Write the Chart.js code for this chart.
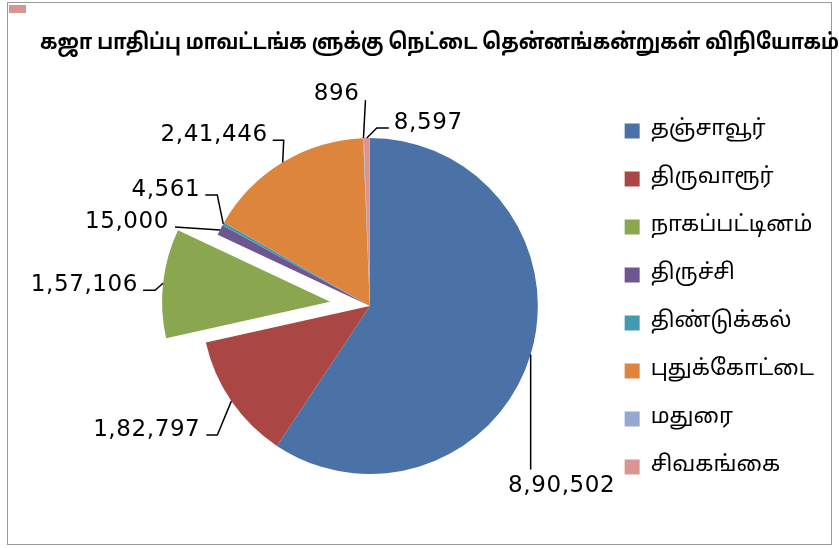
<!DOCTYPE html>
<html>
<head>
<meta charset="utf-8">
<script src="https://cdn.jsdelivr.net/npm/chart.js@4"></script>
<style>
  html, body { margin: 0; padding: 0; background: #fff; overflow: hidden; }
  #wrap { position: relative; width: 839px; height: 548px; overflow: hidden; }
  #frame { position: absolute; left: 7px; top: 2px; width: 825px; height: 543px; border: 1.5px solid #9a9a9a; box-sizing: border-box; }
  #mark { position: absolute; left: 9px; top: 5px; width: 17px; height: 8px; background: #d99594; }
  #title { position: absolute; left: 40px; top: 30px; white-space: nowrap; font: bold 22px 'Noto Sans Tamil', 'Lohit Tamil', Latha, 'Noto Sans', sans-serif; color: #000; transform: scaleX(0.87); transform-origin: left top; }
  canvas { position: absolute; left: 0; top: 0; }
</style>
</head>
<body>
<div id="wrap">
  <div id="frame"></div>
  <div id="mark"></div>
  <canvas id="chart" width="839" height="548"></canvas>
  <div id="title">கஜா பாதிப்பு மாவட்டங்க ளுக்கு நெட்டை தென்னங்கன்றுகள் விநியோகம்</div>
</div>
<script>
const districts = ['தஞ்சாவூர்', 'திருவாரூர்', 'நாகப்பட்டினம்', 'திருச்சி', 'திண்டுக்கல்', 'புதுக்கோட்டை', 'மதுரை', 'சிவகங்கை'];
const saplings = [890502, 182797, 157106, 15000, 4561, 241446, 896, 8597];
const valueLabels = ['8,90,502', '1,82,797', '1,57,106', '15,000', '4,561', '2,41,446', '896', '8,597'];

const sliceColors = ['#4a72a6', '#aa4744', '#8aa64e', '#6e5690', '#4399b0', '#dd853c', '#94a9cf', '#d99594'];
const explode = [0, 0, 40, 0, 0, 0, 0, 0];

// leader lines: points relative to the slice edge, then text offset from the last point
const leaders = [
  { pts: [[0, 115]], txt: [31, 5], align: 'center', base: 'top' },
  { pts: [[-14, 34], [-25, 34]], txt: [-6, 1], align: 'right', base: 'alphabetic' },
  { pts: [[-8, 7], [-20, 7]], txt: [-5, 1], align: 'right', base: 'alphabetic' },
  { pts: [[-45, -3]], txt: [-6, 1], align: 'right', base: 'alphabetic' },
  { pts: [[-6, -29], [-18, -29]], txt: [-5, 1], align: 'right', base: 'alphabetic' },
  { pts: [[1, -22], [-10, -22]], txt: [-5, 1], align: 'right', base: 'alphabetic' },
  { pts: [[2, -38]], txt: [-6, 0], align: 'right', base: 'alphabetic' },
  { pts: [[10, -10], [22, -10]], txt: [5, 1], align: 'left', base: 'alphabetic' }
];

const tamilFont = "'Noto Sans Tamil', 'Lohit Tamil', Latha, 'Noto Sans', sans-serif";

// pull slices out of the pie by moving the whole arc along its middle angle
const explodePlugin = {
  id: 'explode',
  afterUpdate(chart) {
    chart.getDatasetMeta(0).data.forEach((arc, i) => {
      const d = explode[i];
      if (!d) return;
      arc.draw = function(ctx) {
        const mid = (this.startAngle + this.endAngle) / 2;
        ctx.save();
        ctx.translate(Math.cos(mid) * d, Math.sin(mid) * d);
        Chart.ArcElement.prototype.draw.call(this, ctx);
        ctx.restore();
      };
    });
  }
};

const labelPlugin = {
  id: 'leaderLabels',
  afterDatasetsDraw(chart) {
    const ctx = chart.ctx;
    ctx.save();
    ctx.strokeStyle = '#000';
    ctx.lineWidth = 1.5;
    ctx.fillStyle = '#000';
    ctx.font = "23px 'DejaVu Sans', Verdana, sans-serif";
    ctx.letterSpacing = '0.6px';
    chart.getDatasetMeta(0).data.forEach((arc, i) => {
      const p = arc.getProps(['x', 'y', 'startAngle', 'endAngle', 'outerRadius'], true);
      const mid = (p.startAngle + p.endAngle) / 2;
      const r = p.outerRadius + explode[i];
      const ax = p.x + Math.cos(mid) * r;
      const ay = p.y + Math.sin(mid) * r;
      const L = leaders[i];
      ctx.beginPath();
      ctx.moveTo(ax, ay);
      let lx = ax, ly = ay;
      L.pts.forEach(pt => { lx = ax + pt[0]; ly = ay + pt[1]; ctx.lineTo(lx, ly); });
      ctx.stroke();
      ctx.textAlign = L.align;
      ctx.textBaseline = L.base;
      ctx.fillText(valueLabels[i], lx + L.txt[0], ly + L.txt[1]);
    });
    ctx.restore();
  }
};

new Chart(document.getElementById('chart'), {
  type: 'pie',
  data: {
    labels: districts,
    datasets: [{
      data: saplings,
      backgroundColor: sliceColors,
      borderWidth: 0,
      radius: 168
    }]
  },
  options: {
    responsive: false,
    animation: false,
    layout: { padding: { left: 141, right: 15, top: 94, bottom: 30 } },
    plugins: {
      legend: {
        position: 'right',
        align: 'start',
        labels: {
          boxWidth: 15,
          boxHeight: 15,
          padding: 26,
          color: '#000',
          font: { size: 22, family: tamilFont }
        }
      },
      tooltip: { enabled: false }
    }
  },
  plugins: [explodePlugin, labelPlugin]
});
</script>
</body>
</html>
